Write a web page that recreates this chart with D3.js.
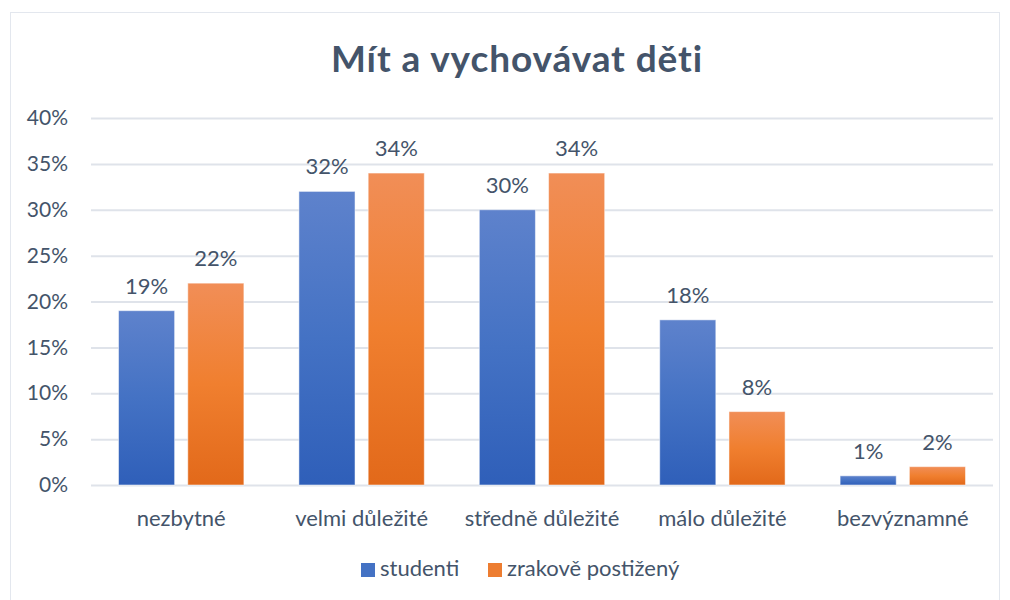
<!DOCTYPE html>
<html>
<head>
<meta charset="utf-8">
<script src="https://cdn.jsdelivr.net/npm/d3@7"></script>
<style>
  body { margin: 0; background: #fff; }
  text { font-family: Lato, "Open Sans", sans-serif; fill: #44546a; }
</style>
</head>
<body>
<div id="main"></div>
<script>
const categories = ["nezbytné", "velmi důležité", "středně důležité", "málo důležité", "bezvýznamné"]
const seriesNames = ["studenti", "zrakově postižený"]
const studenti = [19, 32, 30, 18, 1]
const zrakove = [22, 34, 34, 8, 2]
const yTicks = [0, 5, 10, 15, 20, 25, 30, 35, 40]

const W = 1010, H = 600
const margin = { left: 91, right: 17, top: 118, bottom: 115 }
const fs = 22

const svg = d3.select("#main").append("svg").attr("width", W).attr("height", H)

// gradients like the office chart style
const defs = svg.append("defs")
const grads = [
  { id: "gBlue", stops: ["#5e82cc", "#4472c4", "#2f5fb9"] },
  { id: "gOrange", stops: ["#f18e57", "#f07f2f", "#e2691a"] }
]
grads.forEach(g => {
  const lg = defs.append("linearGradient").attr("id", g.id).attr("x1", 0).attr("y1", 0).attr("x2", 0).attr("y2", 1)
  lg.selectAll("stop").data(g.stops).enter().append("stop")
    .attr("offset", (d, i) => i / 2)
    .attr("stop-color", d => d)
})
const fills = ["url(#gBlue)", "url(#gOrange)"]
const legendColors = ["#4472c4", "#ed7d31"]

// outer frame
svg.append("rect").attr("x", 10.5).attr("y", 12.5).attr("width", W - 21).attr("height", H - 12)
  .attr("fill", "none").attr("stroke", "#e3e7ee")

svg.append("text").attr("x", 517).attr("y", 72).attr("text-anchor", "middle")
  .attr("font-size", 37).attr("font-weight", 700).attr("letter-spacing", 0.9).text("Mít a vychovávat děti")

const x0 = d3.scaleBand().domain(categories).range([margin.left, W - margin.right])
  .paddingInner(0.305).paddingOuter(0.1525)
const x1 = d3.scaleBand().domain(seriesNames).range([0, x0.bandwidth()]).paddingInner(0.19)
const y = d3.scaleLinear().domain([0, 40]).range([H - margin.bottom, margin.top])

// grid
const yAxis = svg.append("g").attr("transform", `translate(${margin.left},0)`)
  .call(d3.axisLeft(y).tickValues(yTicks).tickSize(-(W - margin.left - margin.right)).tickPadding(23).tickFormat(d => d + "%"))
yAxis.select(".domain").remove()
yAxis.selectAll(".tick line").attr("stroke", "#dfe3ea").attr("stroke-width", 2)
yAxis.selectAll(".tick text").attr("font-size", 21).attr("fill", "#44546a").attr("font-family", "Lato, sans-serif")

const xAxis = svg.append("g").attr("transform", `translate(0,${H - margin.bottom})`)
  .call(d3.axisBottom(x0).tickSize(0).tickPadding(25))
xAxis.select(".domain").remove()
xAxis.selectAll(".tick text").attr("font-size", fs).attr("fill", "#44546a").attr("font-family", "Lato, sans-serif")

const rows = categories.map((c, i) => ({ cat: c, vals: [studenti[i], zrakove[i]] }))
const groups = svg.selectAll("g.grp").data(rows).enter().append("g").attr("class", "grp")
  .attr("transform", d => `translate(${x0(d.cat)},0)`)

groups.selectAll("rect").data(d => d.vals.map((v, k) => ({ v, k }))).enter().append("rect")
  .attr("x", d => x1(seriesNames[d.k]))
  .attr("y", d => y(d.v))
  .attr("width", x1.bandwidth())
  .attr("height", d => y(0) - y(d.v))
  .attr("fill", d => fills[d.k])
  .attr("stroke", "#ffffff").attr("stroke-opacity", 0.5).attr("stroke-width", 1)

groups.selectAll("text.lbl").data(d => d.vals.map((v, k) => ({ v, k }))).enter().append("text")
  .attr("class", "lbl")
  .attr("x", d => x1(seriesNames[d.k]) + x1.bandwidth() / 2)
  .attr("y", d => y(d.v) - 17)
  .attr("text-anchor", "middle").attr("font-size", fs)
  .text(d => d.v + "%")

// legend
const legend = svg.append("g").attr("transform", "translate(361,576)")
const legX = [0, 127]
seriesNames.forEach((s, i) => {
  legend.append("rect").attr("x", legX[i]).attr("y", -13).attr("width", 14).attr("height", 14).attr("fill", legendColors[i])
  legend.append("text").attr("x", legX[i] + 19).attr("y", 0).attr("font-size", fs).text(s)
})
</script>
</body>
</html>
